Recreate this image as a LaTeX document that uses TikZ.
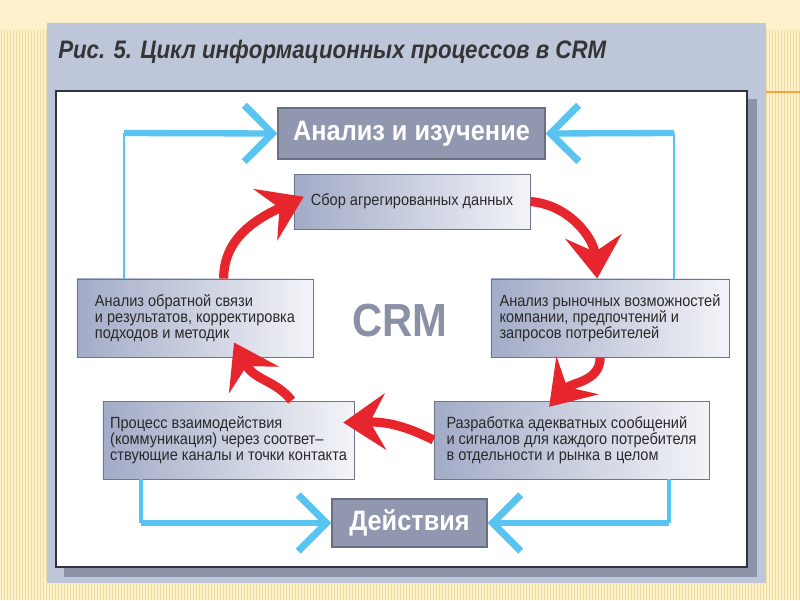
\documentclass[tikz,border=0pt]{standalone}
\usepackage{fontspec}
\setmainfont{Liberation Sans}
\newfontfamily\narrowfont{Liberation Sans}[FakeStretch=0.90]
\newfontfamily\titlefont{Liberation Sans}[FakeStretch=0.88]
\usetikzlibrary{arrows.meta,shapes}

\definecolor{creambg}{HTML}{FDF1CB}
\definecolor{creamstripe}{HTML}{F1DCA0}
\definecolor{panelbg}{HTML}{BEC6D9}
\definecolor{shadowbg}{HTML}{8D94AA}
\definecolor{frameline}{HTML}{30343F}
\definecolor{keyfill}{HTML}{9197AE}
\definecolor{keyline}{HTML}{6A6F83}
\definecolor{boxleft}{HTML}{A2ABC7}
\definecolor{boxright}{HTML}{F3F4F8}
\definecolor{boxline}{HTML}{707689}
\definecolor{crmred}{HTML}{E6262C}
\definecolor{crmblue}{HTML}{58C4EF}
\definecolor{crmgrey}{HTML}{8A90A6}
\definecolor{titlegrey}{HTML}{353535}
\definecolor{bodytext}{HTML}{2A2A2A}
\definecolor{tmplorange}{HTML}{F0A43A}

\tikzset{
  stagebox/.style={draw=boxline, line width=0.6pt, left color=boxleft, right color=boxright,
    align=left, text=bodytext, inner sep=0pt,
    font=\narrowfont\fontsize{11.5}{11.6}\selectfont},
  keybox/.style={draw=keyline, line width=0.8pt, fill=keyfill, text=white, inner sep=0pt,
    font=\narrowfont\bfseries\fontsize{20}{20}\selectfont},
  redarrow/.style={draw=crmred, line width=6.5pt,
    -{Stealth[length=30pt,width=40pt,inset=11pt]}},
  bluearrow/.style={draw=crmblue, line width=4.5pt,
    -{Straight Barb[length=20pt,width=40pt,line width=5pt]}},
  bluethin/.style={draw=crmblue, line width=1.4pt}
}

\begin{document}
\begin{tikzpicture}[x=0.025cm,y=-0.025cm]
  \useasboundingbox (0,0) rectangle (800,600);
  % slide background
  \fill[creambg] (0,0) rectangle (800,600);
  \foreach \x in {1,4,...,799}
    \draw[creamstripe, line width=0.5pt] (\x,30) -- (\x,600);
  \draw[tmplorange, line width=1.5pt] (766,92) -- (800,92);
  \fill[panelbg] (47,23) rectangle (766,583);
  \node[anchor=base west, text=titlegrey, inner sep=0pt,
    font=\titlefont\bfseries\itshape\fontsize{18}{18}\selectfont] (title) at (58,58)
    {Рис. 5. Цикл информационных процессов в CRM};
  % frame
  \fill[shadowbg] (64,99) rectangle (757,577);
  \draw[frameline, line width=0.8pt, fill=white] (56,91) rectangle (747,567);

  % boxes
  \node[keybox, minimum width=6.675cm, minimum height=1.275cm] (ai) at (411.5,133.5) {Анализ и изучение};
  \node[stagebox, minimum width=5.9cm, minimum height=1.375cm] (sb) at (412,201.5) {Сбор агрегированных данных};
  \node[stagebox, minimum width=5.9cm, minimum height=1.95cm] (fb) at (195,318)
    {Анализ обратной связи\\и результатов, корректировка\\подходов и методик};
  \node[stagebox, minimum width=5.95cm, minimum height=1.95cm] (mb) at (610,318)
    {Анализ рыночных возможностей\\компании, предпочтений и\\запросов потребителей};
  \node[stagebox, minimum width=6.275cm, minimum height=1.95cm] (pb) at (228.5,440)
    {Процесс взаимодействия\\(коммуникация) через соответ–\\ствующие каналы и точки контакта};
  \node[stagebox, minimum width=6.875cm, minimum height=1.95cm] (rb) at (571.5,440)
    {Разработка адекватных сообщений\\и сигналов для каждого потребителя\\в отдельности и рынка в целом};
  \node[keybox, minimum width=3.875cm, minimum height=1.2cm] (da) at (409.5,523) {Действия};
  \node[text=crmgrey, font=\narrowfont\bfseries\fontsize{33}{33}\selectfont] (crm) at (400,321) {CRM};

  % red cycle
  \draw[redarrow] (sb.east) to[out=-5,in=95] (mb.108);
  \draw[redarrow, shorten >=-6pt] (mb.256) to[out=-90,in=48] (rb.113);
  \draw[redarrow, shorten >=-8pt] (rb.west) to[bend right=14] (pb.8);
  \draw[redarrow, shorten >=-12pt] (pb.32) to[out=128,in=-62] (fb.-40);
  \draw[redarrow, shorten >=-8pt] (fb.54) to[out=90,in=205] (sb.west);

  % blue feedback
  \coordinate (lt) at (124,133);
  \coordinate (rt) at (674,133);
  \coordinate (lb) at (141,523);
  \coordinate (rb2) at (669,523);
  \draw[bluethin] (fb.north -| lt) -- (lt);
  \draw[bluearrow] (lt) -- (ai.west);
  \draw[bluethin] (mb.north -| rt) -- (rt);
  \draw[bluearrow] (rt) -- (ai.east);
  \draw[bluethin, line width=2.5pt] (pb.south -| lb) -- (lb);
  \draw[bluearrow] (lb) -- (da.west);
  \draw[bluethin, line width=2.5pt] (rb.south -| rb2) -- (rb2);
  \draw[bluearrow] (rb2) -- (da.east);
\end{tikzpicture}
\end{document}
